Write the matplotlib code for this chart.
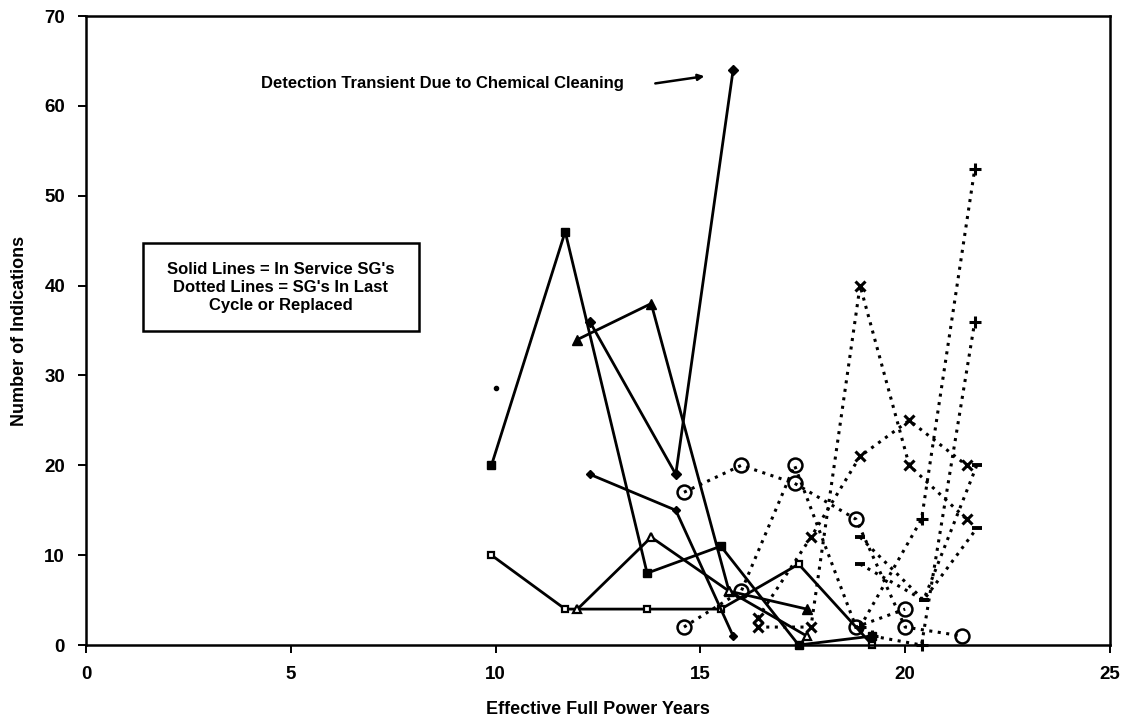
import matplotlib.pyplot as plt
from matplotlib.patches import Rectangle

plt.rcParams["font.family"] = ["Liberation Sans", "DejaVu Sans"]
plt.rcParams["font.weight"] = "bold"

# solid lines: SGs in service
sq_x = [9.9, 11.7, 13.7, 15.5, 17.4, 19.2]
sq_filled_y = [20, 46, 8, 11, 0, 1]
sq_open_y = [10, 4, 4, 4, 9, 0]
dia_x = [12.3, 14.4, 15.8]
dia_big_y = [36, 19, 64]
dia_small_y = [19, 15, 1]
tri_x = [12.0, 13.8, 15.7, 17.6]
tri_filled_y = [34, 38, 6, 4]
tri_open_y = [4, 12, 6, 1]
lone_x = [10.0]
lone_y = [28.6]

# dotted lines: SGs in last cycle or replaced
x_mark_x = [16.4, 17.7, 18.9, 20.1, 21.5]
x_mark_a_y = [2, 2, 40, 20, 14]
x_mark_b_y = [3, 12, 21, 25, 20]
circ_a_x = [14.6, 16.0, 17.3, 18.8, 20.0, 21.4]
circ_a_y = [17, 20, 18, 14, 2, 1]
circ_b_x = [14.6, 16.0, 17.3, 18.8, 20.0]
circ_b_y = [2, 6, 20, 2, 4]
plus_a_x = [18.9, 20.4, 21.7]
plus_a_y = [2, 14, 53]
plus_b_x = [19.2, 20.4, 21.7]
plus_b_y = [1, 0, 36]
dash_x = [18.9, 20.45, 21.75]
dash_a_y = [12, 5, 20]
dash_b_y = [9, 5, 13]

fig = plt.figure(figsize=(11.28, 7.25), dpi=100)
ax = fig.add_axes([0.0762, 0.1103, 0.9078, 0.8676])

solid = dict(color="black", lw=2, clip_on=False)
ax.plot(sq_x, sq_filled_y, marker="s", ms=6, **solid)
ax.plot(sq_x, sq_open_y, marker="s", ms=5, mfc="white", mew=1.6, **solid)
ax.plot(dia_x, dia_big_y, marker="D", ms=5.5, **solid)
ax.plot(dia_x, dia_small_y, marker="D", ms=4.5, **solid)
ax.plot(tri_x, tri_filled_y, marker="^", ms=7, **solid)
ax.plot(tri_x, tri_open_y, marker="^", ms=6, mfc="white", mew=1.6, **solid)
ax.plot(lone_x, lone_y, marker="o", ms=3, ls="none", color="black")

dotted = dict(color="black", lw=2.2, ls=(0, (1, 1.8)), clip_on=False)
ax.plot(x_mark_x, x_mark_a_y, marker="x", ms=7, mew=2.2, **dotted)
ax.plot(x_mark_x, x_mark_b_y, marker="x", ms=7, mew=2.2, **dotted)
ax.plot(circ_a_x, circ_a_y, marker="o", ms=10, mfc="none", mew=1.8, **dotted)
ax.plot(circ_b_x, circ_b_y, marker="o", ms=10, mfc="none", mew=1.8, **dotted)
ax.plot(plus_a_x, plus_a_y, marker="+", ms=8, mew=2.2, **dotted)
ax.plot(plus_b_x, plus_b_y, marker="+", ms=8, mew=2.2, **dotted)
ax.plot(dash_x, dash_a_y, marker="_", ms=7, mew=2.8, **dotted)
ax.plot(dash_x, dash_b_y, marker="_", ms=7, mew=2.8, **dotted)

ax.set_xlim(0, 25)
ax.set_ylim(0, 70)
ax.set_xticks(range(0, 26, 5))
ax.set_yticks(range(0, 71, 10))
ax.tick_params(direction="out", length=6, width=1.4, labelsize=13.5, pad=9)
for spine in ax.spines.values():
    spine.set_linewidth(1.8)

ax.set_xlabel("Effective Full Power Years", fontsize=13, fontweight="bold", labelpad=13)
ax.set_ylabel("Number of Indications", fontsize=13, fontweight="bold", labelpad=12)

ax.text(8.7, 62.5, "Detection Transient Due to Chemical Cleaning",
        ha="center", va="center", fontsize=12, fontweight="bold")
ax.annotate("", xy=(15.1, 63.3), xytext=(13.9, 62.5),
            arrowprops=dict(arrowstyle="-|>", color="black", lw=1.8,
                            shrinkA=0, shrinkB=0, mutation_scale=9))

ax.add_patch(Rectangle((1.39, 34.9), 6.74, 9.8, fc="white", ec="black", lw=1.8))
ax.text(4.76, 39.8,
        "Solid Lines = In Service SG's\nDotted Lines = SG's In Last\nCycle or Replaced",
        ha="center", va="center", fontsize=12, fontweight="bold",
        linespacing=1.25)

fig.savefig("out.png", dpi=100)
